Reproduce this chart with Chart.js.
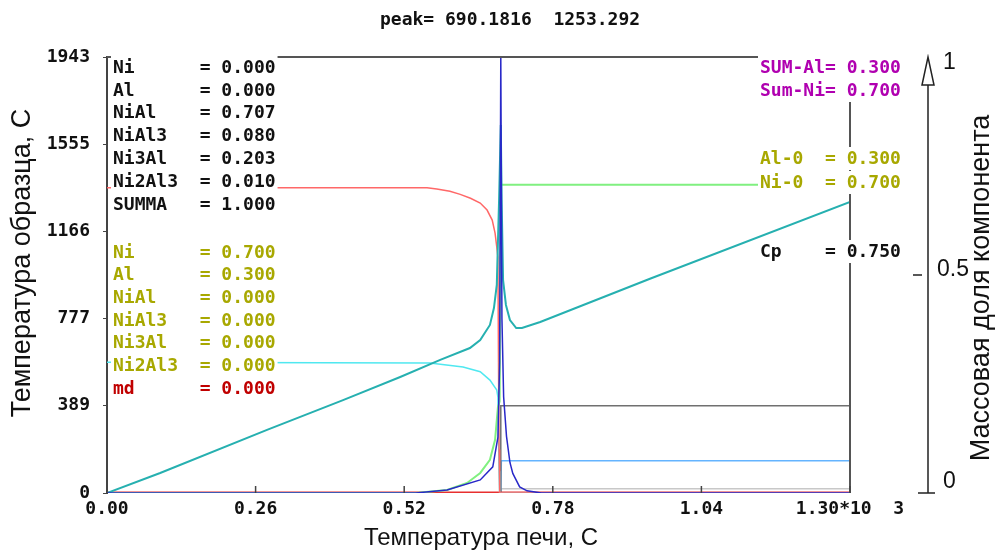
<!DOCTYPE html>
<html>
<head>
<meta charset="utf-8">
<script src="https://cdn.jsdelivr.net/npm/chart.js@4.4.1/dist/chart.umd.min.js"></script>
<style>
  html, body { margin: 0; padding: 0; background: #fff; }
  canvas { display: block; }
</style>
</head>
<body>
<canvas id="dta" width="997" height="552"></canvas>
<script>
// furnace temperature (C) -> sample temperature (C), left axis
const sampleTemp = [[0,0],[93,89],[280,281],[413,414],[513,517],[583,593],[635,646],[653,682],[670,749],[677,824],
  [682,927],[686,1306],[689,1640],[690.5,1306],[693,949],[698,838],[705,771],[716,735],[726,735],[758,762],[950,955],[1300,1297]];

// mass fractions, right axis (0..1)
const rate   = [[0,0],[540,0],[595,0.007],[653,0.03],[675,0.06],[684,0.128],[687,0.3],[689,1],[691,0.4],[694,0.22],
  [699,0.13],[705,0.07],[710,0.045],[722,0.014],[735,0.005],[760,0],[1300,0]];
const niAl   = [[0,0],[540,0],[595,0.007],[630,0.023],[653,0.046],[670,0.076],[679,0.122],[682,0.167],[684,0.197],
  [687,0.21],[689,0.707],[1300,0.707]];
const ni     = [[0,0.7],[560,0.7],[577,0.697],[600,0.692],[618,0.685],[636,0.676],[653,0.665],[665,0.649],[674,0.626],
  [679,0.596],[682,0.564],[684,0.541],[685,0.3],[686,0.1],[687,0],[1300,0]];
const al     = [[0,0.3],[565,0.298],[623,0.289],[653,0.278],[670,0.259],[682,0.236],[684,0.22],[686,0.05],[687,0],[1300,0]];
const md     = [[0,0],[1300,0]];
const ni3Al  = [[0,0],[688,0],[689,0.2],[1300,0.2]];
const niAl3  = [[0,0],[689,0],[690,0.074],[1300,0.074]];
const ni2Al3 = [[0,0],[689,0],[690,0.01],[1300,0.01]];

// ticks
const xTicks = [0, 260, 520, 780, 1040, 1300];
const xLabels = ['0.00', '0.26', '0.52', '0.78', '1.04', '1.30*10  3'];
const yTicks = [0, 389, 777, 1166, 1555, 1943];
const fracTicks = [0, 0.5, 1];
const fracLabels = ['0', '0.5', '1'];

// text panels
const finalNames = ['Ni', 'Al', 'NiAl', 'NiAl3', 'Ni3Al', 'Ni2Al3', 'SUMMA'];
const finalValues = ['0.000', '0.000', '0.707', '0.080', '0.203', '0.010', '1.000'];
const startNames = ['Ni', 'Al', 'NiAl', 'NiAl3', 'Ni3Al', 'Ni2Al3', 'md'];
const startValues = ['0.700', '0.300', '0.000', '0.000', '0.000', '0.000', '0.000'];
const sumLines = ['SUM-Al= 0.300', 'Sum-Ni= 0.700'];
const initLines = ['Al-0  = 0.300', 'Ni-0  = 0.700'];
const cpLine = 'Cp    = 0.750';
const peakText = 'peak= 690.1816  1253.292';

const MONO = "bold 18px 'DejaVu Sans Mono'";
const SANS = "'Liberation Sans', Arial, sans-serif";
const OLIVE = '#a8a800';

const pts = arr => arr.map(p => ({ x: p[0], y: p[1] }));
const line = (label, arr, color, axis, width) => ({
  label, data: pts(arr), borderColor: color, borderWidth: width || 1.5,
  yAxisID: axis, pointRadius: 0, tension: 0, fill: false
});

function textBox(ctx, text, x, y, color) {
  ctx.font = MONO;
  const w = ctx.measureText(text).width;
  ctx.fillStyle = '#fff';
  ctx.fillRect(x - 2, y - 12, w + 4, 23);
  ctx.fillStyle = color;
  ctx.textBaseline = 'middle';
  ctx.textAlign = 'left';
  ctx.fillText(text, x, y);
}

const overlay = {
  id: 'overlay',
  afterDatasetsDraw(chart) {
    const { ctx, chartArea: a, scales } = chart;
    ctx.save();

    // frame
    ctx.strokeStyle = '#555';
    ctx.lineWidth = 2;
    ctx.beginPath();
    ctx.moveTo(a.left, a.top);
    ctx.lineTo(a.right, a.top);
    ctx.lineTo(a.right, a.bottom);
    ctx.stroke();

    // x ticks point inward
    ctx.lineWidth = 1.5;
    ctx.strokeStyle = '#444';
    ctx.beginPath();
    scales.x.ticks.forEach((t, i) => {
      const px = scales.x.getPixelForTick(i);
      ctx.moveTo(px, a.bottom);
      ctx.lineTo(px, a.bottom - 7);
    });
    ctx.stroke();

    // text panels
    finalNames.forEach((n, i) => textBox(ctx, n.padEnd(8) + '= ' + finalValues[i], 113, 68 + i * 22.9, '#111'));
    startNames.forEach((n, i) => textBox(ctx, n.padEnd(8) + '= ' + startValues[i], 113, 253 + i * 22.7,
      n === 'md' ? '#c00000' : OLIVE));
    sumLines.forEach((s, i) => textBox(ctx, s, 760, 68 + i * 23, '#b000b0'));
    initLines.forEach((s, i) => textBox(ctx, s, 760, 159 + i * 24, OLIVE));
    textBox(ctx, cpLine, 760, 252, '#111');

    // peak caption
    ctx.font = MONO;
    ctx.fillStyle = '#111';
    ctx.textBaseline = 'middle';
    ctx.fillText(peakText, 380, 20);

    // right fraction axis
    const f = scales.y1;
    const ax = 928;
    const y0 = f.getPixelForValue(0);
    const y1 = f.getPixelForValue(1);
    ctx.strokeStyle = '#222';
    ctx.lineWidth = 1.5;
    ctx.beginPath();
    ctx.moveTo(ax, y0);
    ctx.lineTo(ax, y1 + 28);
    ctx.moveTo(ax - 6, y1 + 28);
    ctx.lineTo(ax + 6, y1 + 28);
    ctx.lineTo(ax, y1);
    ctx.closePath();
    ctx.moveTo(918, y0);
    ctx.lineTo(935, y0);
    const yMid = f.getPixelForValue(0.5);
    ctx.moveTo(913, yMid);
    ctx.lineTo(922, yMid);
    ctx.stroke();

    ctx.font = '23px ' + SANS;
    ctx.fillStyle = '#111';
    fracTicks.forEach((v, i) => {
      const py = f.getPixelForValue(v);
      const off = v === 0 ? -11 : v === 1 ? 6 : -5;
      ctx.fillText(fracLabels[i], v === 0.5 ? 937 : 943, py + off);
    });

    // axis titles
    ctx.font = '24px ' + SANS;
    ctx.textAlign = 'center';
    ctx.fillText('Температура печи, С', 481, 538);

    ctx.font = '27px ' + SANS;
    ctx.save();
    ctx.translate(23, 263);
    ctx.rotate(-Math.PI / 2);
    ctx.fillText('Температура образца, С', 0, 0);
    ctx.restore();

    ctx.save();
    ctx.translate(982, 288);
    ctx.rotate(-Math.PI / 2);
    ctx.fillText('Массовая доля компонента', 0, 0);
    ctx.restore();

    ctx.restore();
  }
};

new Chart(document.getElementById('dta'), {
  type: 'line',
  data: {
    datasets: [
      line('rate', rate, '#2828c8', 'y1', 1.5),
      line('sample', sampleTemp, '#26b0b0', 'y', 2),
      line('NiAl', niAl, '#80f080', 'y1', 2),
      line('Ni', ni, '#ff6868', 'y1', 1.5),
      line('Al', al, '#50e8f0', 'y1', 1.5),
      line('md', md, '#e83030', 'y1', 3),
      line('Ni3Al', ni3Al, '#707070', 'y1', 1.5),
      line('NiAl3', niAl3, '#64b4ff', 'y1', 1.5),
      line('Ni2Al3', ni2Al3, '#c8c8c8', 'y1', 1.5)
    ]
  },
  options: {
    responsive: false,
    animation: false,
    devicePixelRatio: 1,
    layout: { padding: { left: 0, top: 57, right: 147, bottom: 0 } },
    plugins: { legend: { display: false }, tooltip: { enabled: false } },
    scales: {
      x: {
        type: 'linear', min: 0, max: 1300,
        afterBuildTicks: s => { s.ticks = xTicks.map(v => ({ value: v })); },
        afterFit: s => { s.height = 59; },
        grid: { display: false, drawTicks: false },
        border: { display: false },
        ticks: {
          autoSkip: false, maxRotation: 0, padding: 6, color: '#111',
          font: { family: 'DejaVu Sans Mono', size: 18, weight: 'bold' },
          callback: (v, i) => xLabels[i]
        }
      },
      y: {
        type: 'linear', position: 'left', min: 0, max: 1943,
        afterBuildTicks: s => { s.ticks = yTicks.map(v => ({ value: v })); },
        afterFit: s => { s.width = 107; },
        grid: { drawOnChartArea: false, tickLength: 4, color: '#444' },
        border: { display: true, color: '#444', width: 2 },
        ticks: {
          padding: 13, color: '#111',
          font: { family: 'DejaVu Sans Mono', size: 18, weight: 'bold' },
          callback: (v, i) => String(yTicks[i])
        }
      },
      y1: { type: 'linear', position: 'right', min: 0, max: 1, display: false }
    }
  },
  plugins: [overlay]
});
</script>
</body>
</html>
